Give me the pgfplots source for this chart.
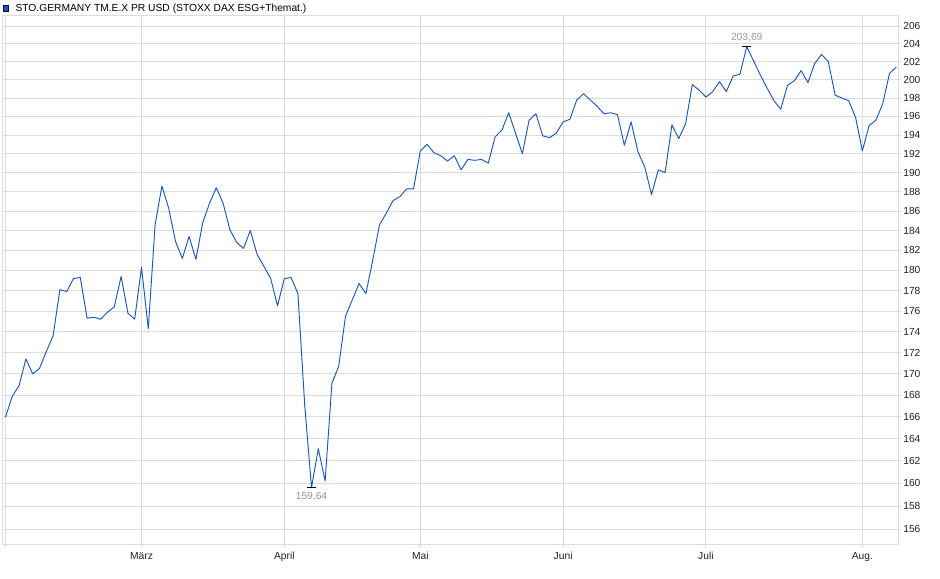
\documentclass[border=0pt]{standalone}
\usepackage{pgfplots}
\pgfplotsset{compat=1.18}
\usepackage{pgfplotstable}
\usepackage{fontspec}
\setmainfont{Liberation Sans}

\definecolor{lineblue}{RGB}{25,85,195}
\definecolor{legblue}{RGB}{30,85,185}
\definecolor{gridgray}{RGB}{220,220,220}
\definecolor{labgray}{RGB}{150,150,150}
\definecolor{tickblack}{RGB}{35,35,35}

% trading day index (0 = 3 Feb) and closing value
\pgfplotstableread{
day value
0 166.0
1 167.9
2 168.9
3 171.4
4 170.0
5 170.5
6 172.1
7 173.6
8 178.1
9 177.9
10 179.2
11 179.3
12 175.3
13 175.4
14 175.2
15 175.9
16 176.4
17 179.4
18 175.8
19 175.2
20 180.3
21 174.3
22 184.6
23 188.6
24 186.3
25 182.9
26 181.2
27 183.4
28 181.1
29 184.8
30 186.8
31 188.4
32 186.8
33 184.1
34 182.8
35 182.2
36 184.0
37 181.6
38 180.4
39 179.2
40 176.5
41 179.2
42 179.3
43 177.7
44 167.1
45 159.64
46 163.1
47 160.2
48 169.1
49 170.7
50 175.5
51 177.1
52 178.7
53 177.7
54 181.0
55 184.6
56 185.8
57 187.1
58 187.5
59 188.3
60 188.3
61 192.3
62 193.0
63 192.1
64 191.8
65 191.2
66 191.8
67 190.3
68 191.4
69 191.3
70 191.4
71 191.0
72 193.8
73 194.5
74 196.4
75 194.2
76 192.0
77 195.6
78 196.3
79 193.9
80 193.7
81 194.2
82 195.4
83 195.7
84 197.8
85 198.5
86 197.8
87 197.1
88 196.3
89 196.4
90 196.2
91 192.9
92 195.4
93 192.2
94 190.6
95 187.7
96 190.3
97 190.0
98 195.1
99 193.6
100 195.2
101 199.5
102 198.9
103 198.1
104 198.7
105 199.8
106 198.7
107 200.4
108 200.6
109 203.69
110 202.1
111 200.5
112 199.1
113 197.7
114 196.8
115 199.4
116 199.9
117 201.0
118 199.7
119 201.8
120 202.8
121 202.0
122 198.3
123 198.0
124 197.7
125 195.9
126 192.3
127 195.0
128 195.6
129 197.4
130 200.7
131 201.4
}\series

\begin{document}
\begin{tikzpicture}
\useasboundingbox (-2.03pt,-25.5pt) rectangle (702.97pt,408.75pt);
\begin{axis}[
  at={(0,0)}, anchor=south west,
  scale only axis, width=671.5pt, height=396.75pt,
  xmin=-0.41, xmax=131.25,
  ymode=log, ymin=154.65, ymax=207.18,
  xtick={0,20,41,61,82,103,126},
  xticklabels={,März,April,Mai,Juni,Juli,Aug.},
  ytick={156,158,...,206},
  log ticks with fixed point,
  /pgf/number format/assume math mode=true,
  /pgf/number format/fixed, /pgf/number format/precision=0,
  grid=major,
  major grid style={draw=gridgray, line width=0.75pt},
  axis line style={draw=gridgray, line width=0.75pt},
  tick align=outside, major tick length=2pt,
  tick style={draw=gridgray, line width=0.75pt},
  xtick pos=left, ytick pos=right, yticklabel pos=right,
  tick label style={font=\fontsize{7.7}{9}\selectfont, text=tickblack},
  yticklabel style={anchor=west, inner sep=0pt, xshift=1.75pt},
  xticklabel style={anchor=base, inner sep=0pt, yshift=-8.8pt},
  legend style={at={(0,1)}, anchor=south west, yshift=2.1pt,
    draw=none, fill=none, inner sep=0pt, outer sep=0pt,
    font=\fontsize{7.7}{9}\selectfont,
    nodes={inner sep=0pt, text=black},
    /tikz/every odd column/.append style={column sep=5pt}},
  legend image code/.code={
    \draw[draw=black!60!blue, fill=legblue, line width=0.4pt]
      (0pt,-2.1pt) rectangle (4.2pt,2.1pt);},
  legend cell align=left,
]
\addplot[lineblue, line width=0.7pt, line join=round] table[x=day, y=value] {\series};
\addlegendentry{STO.GERMANY TM.E.X PR USD (STOXX DAX ESG+Themat.)}

\addplot[forget plot, only marks, mark=-, mark size=3.4pt, black,
  mark options={line width=0.75pt},
  nodes near coords={159,64},
  every node near coord/.append style={anchor=center, yshift=-7pt,
    text=labgray, font=\fontsize{7.7}{9}\selectfont}]
  coordinates {(45,159.64)};
\addplot[forget plot, only marks, mark=-, mark size=3.4pt, black,
  mark options={line width=0.75pt},
  nodes near coords={203,69},
  every node near coord/.append style={anchor=center, yshift=7pt,
    text=labgray, font=\fontsize{7.7}{9}\selectfont}]
  coordinates {(109,203.69)};
\end{axis}
\end{tikzpicture}
\end{document}
